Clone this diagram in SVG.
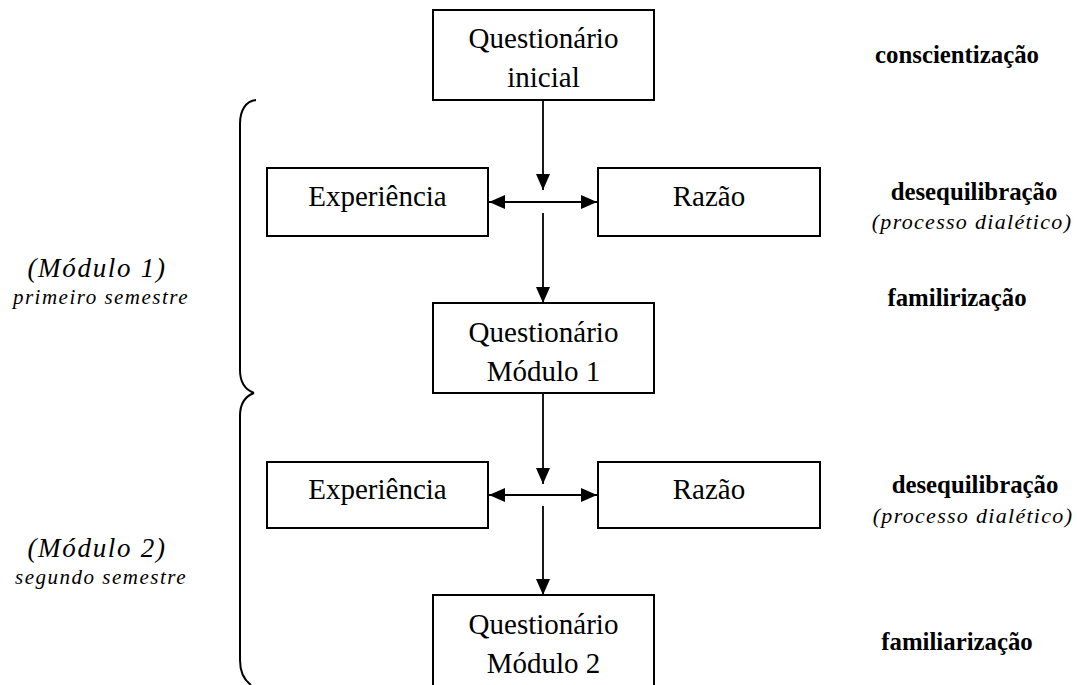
<svg xmlns="http://www.w3.org/2000/svg" width="1077" height="685" viewBox="0 0 1077 685">
  <style>
    .box { fill: #fff; stroke: #000; stroke-width: 2; }
    .lbl { font-family: "Liberation Serif", "Times New Roman", serif; font-size: 29px; fill: #000; text-anchor: middle; }
    .stage { font-family: "Liberation Serif", "Times New Roman", serif; font-size: 24.8px; font-weight: bold; fill: #000; text-anchor: middle; }
    .note { font-family: "Liberation Serif", "Times New Roman", serif; font-size: 22px; font-style: italic; letter-spacing: 1.3px; fill: #000; text-anchor: middle; }
    .mod { font-family: "Liberation Serif", "Times New Roman", serif; font-size: 27px; font-style: italic; letter-spacing: 1.7px; fill: #000; text-anchor: middle; }
    .sem { font-family: "Liberation Serif", "Times New Roman", serif; font-size: 21px; font-style: italic; letter-spacing: 1.5px; fill: #000; text-anchor: middle; }
    .conn { stroke: #000; stroke-width: 1.8; fill: none; }
    .brace { stroke: #000; stroke-width: 2; fill: none; }
  </style>
  <defs>
    <marker id="arrow" viewBox="0 0 16 14" refX="16" refY="7" markerWidth="16" markerHeight="14" markerUnits="userSpaceOnUse" orient="auto-start-reverse">
      <path d="M0,0 L16,7 L0,14 Z" fill="#000"/>
    </marker>
  </defs>

  <rect width="1077" height="685" fill="#fff"/>

  <!-- connectors -->
  <g id="connectors">
    <line class="conn" x1="543" y1="100" x2="543" y2="190" marker-end="url(#arrow)"/>
    <line class="conn" x1="489" y1="202" x2="597" y2="202" marker-start="url(#arrow)" marker-end="url(#arrow)"/>
    <line class="conn" x1="543" y1="213" x2="543" y2="303" marker-end="url(#arrow)"/>
    <line class="conn" x1="543" y1="393" x2="543" y2="484" marker-end="url(#arrow)"/>
    <line class="conn" x1="489" y1="495" x2="597" y2="495" marker-start="url(#arrow)" marker-end="url(#arrow)"/>
    <line class="conn" x1="543" y1="506" x2="543" y2="595" marker-end="url(#arrow)"/>
  </g>

  <!-- nodes -->
  <g id="q-inicial">
    <rect class="box" x="433" y="10" width="221" height="90"/>
    <text class="lbl" x="543.5" y="48">Questionário</text>
    <text class="lbl" x="543.5" y="87">inicial</text>
  </g>
  <g id="experiencia-1">
    <rect class="box" x="267" y="168" width="221" height="68"/>
    <text class="lbl" x="377.5" y="206">Experiência</text>
  </g>
  <g id="razao-1">
    <rect class="box" x="598" y="168" width="222" height="68"/>
    <text class="lbl" x="709" y="206">Razão</text>
  </g>
  <g id="q-modulo-1">
    <rect class="box" x="433" y="303" width="221" height="90"/>
    <text class="lbl" x="543.5" y="342">Questionário</text>
    <text class="lbl" x="543.5" y="381">Módulo 1</text>
  </g>
  <g id="experiencia-2">
    <rect class="box" x="267" y="462" width="221" height="66"/>
    <text class="lbl" x="377.5" y="499">Experiência</text>
  </g>
  <g id="razao-2">
    <rect class="box" x="598" y="462" width="222" height="66"/>
    <text class="lbl" x="709" y="499">Razão</text>
  </g>
  <g id="q-modulo-2">
    <rect class="box" x="433" y="595" width="221" height="110"/>
    <text class="lbl" x="543.5" y="634">Questionário</text>
    <text class="lbl" x="543.5" y="673">Módulo 2</text>
  </g>

  <!-- braces grouping the two modules -->
  <g id="braces">
    <path class="brace" d="M256,100 C246,101 240,110 240,124 L240,370 C240,383 246,390 254,393"/>
    <path class="brace" d="M254,393 C246,396 240,403 240,416 L240,660 C240,672 244,680 251,685"/>
  </g>

  <!-- module labels -->
  <g id="modulo-1-label">
    <text class="mod" x="97" y="277">(Módulo 1)</text>
    <text class="sem" x="101" y="304">primeiro semestre</text>
  </g>
  <g id="modulo-2-label">
    <text class="mod" x="97" y="557">(Módulo 2)</text>
    <text class="sem" x="101" y="584">segundo semestre</text>
  </g>

  <!-- stage labels -->
  <g id="stages">
    <text class="stage" x="957" y="63">conscientização</text>
    <text class="stage" x="974" y="200">desequilibração</text>
    <text class="note" x="972" y="229">(processo dialético)</text>
    <text class="stage" x="957" y="306">familirização</text>
    <text class="stage" x="975" y="493">desequilibração</text>
    <text class="note" x="973" y="523">(processo dialético)</text>
    <text class="stage" x="957" y="650">familiarização</text>
  </g>
</svg>
